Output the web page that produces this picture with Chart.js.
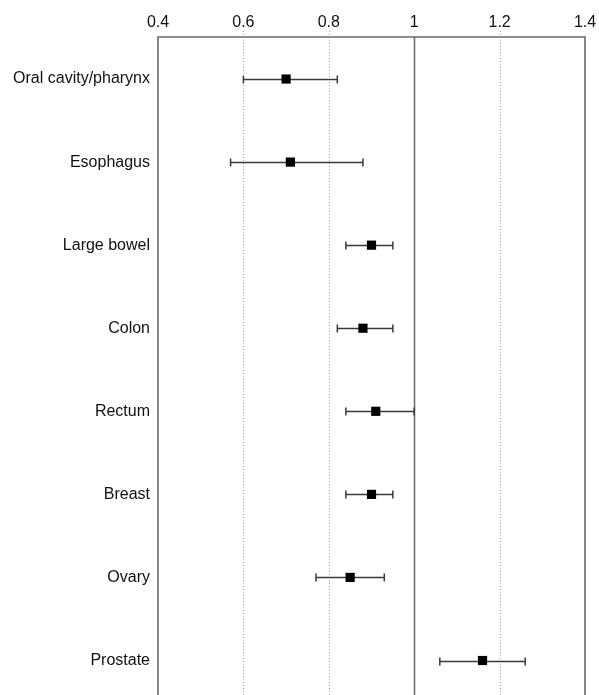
<!DOCTYPE html>
<html>
<head>
<meta charset="utf-8">
<script src="https://cdn.jsdelivr.net/npm/chart.js@4.4.1/dist/chart.umd.min.js"></script>
<style>
  html, body { margin: 0; padding: 0; background: #fff; overflow: hidden; }
  canvas { display: block; }
</style>
</head>
<body>
<canvas id="c" width="599" height="695" style="width:599px;height:695px"></canvas>
<script>
const categories = ["Oral cavity/pharynx", "Esophagus", "Large bowel", "Colon", "Rectum", "Breast", "Ovary", "Prostate"];
const estimate = [0.70, 0.71, 0.90, 0.88, 0.91, 0.90, 0.85, 1.16];
const lower    = [0.60, 0.57, 0.84, 0.82, 0.84, 0.84, 0.77, 1.06];
const upper    = [0.82, 0.88, 0.95, 0.95, 1.00, 0.95, 0.93, 1.26];
const xTicks   = [0.4, 0.6, 0.8, 1.0, 1.2, 1.4];

const points = categories.map((c, i) => ({ x: estimate[i], y: i + 1 }));
const FONT = "'Liberation Sans', Arial, sans-serif";

const framePlugin = {
  id: 'frame',
  beforeDatasetsDraw(chart) {
    const { ctx, chartArea: a, scales: { x, y } } = chart;
    const bottom = chart.height;
    ctx.save();
    xTicks.forEach(v => {
      if (v === 0.4 || v === 1.4) return;
      const px = Math.round(x.getPixelForValue(v)) + 0.5;
      ctx.beginPath();
      if (v === 1.0) {
        ctx.setLineDash([]);
        ctx.strokeStyle = '#6f6f6f';
        ctx.lineWidth = 1.6;
        ctx.moveTo(px, a.top);
      } else {
        ctx.setLineDash([1, 2]);
        ctx.strokeStyle = '#a8a8a8';
        ctx.lineWidth = 1;
        ctx.moveTo(px, a.top - 6);
      }
      ctx.lineTo(px, bottom);
      ctx.stroke();
    });
    ctx.setLineDash([]);
    ctx.strokeStyle = '#6a6a6a';
    ctx.lineWidth = 1.6;
    const l = x.getPixelForValue(0.4), r = x.getPixelForValue(1.4);
    ctx.beginPath();
    ctx.moveTo(l, bottom); ctx.lineTo(l, a.top); ctx.lineTo(r, a.top); ctx.lineTo(r, bottom);
    ctx.stroke();
    ctx.strokeStyle = '#3a3a3a';
    ctx.lineWidth = 1.5;
    categories.forEach((c, i) => {
      const py = Math.round(y.getPixelForValue(i + 1)) + 0.5;
      const x0 = x.getPixelForValue(lower[i]), x1 = x.getPixelForValue(upper[i]);
      ctx.beginPath();
      ctx.moveTo(x0, py); ctx.lineTo(x1, py);
      ctx.moveTo(x0, py - 4); ctx.lineTo(x0, py + 4);
      ctx.moveTo(x1, py - 4); ctx.lineTo(x1, py + 4);
      ctx.stroke();
    });
    ctx.restore();
  }
};

new Chart(document.getElementById('c'), {
  type: 'scatter',
  data: {
    datasets: [{
      data: points,
      pointStyle: 'rect',
      pointRadius: 6.5,
      pointHoverRadius: 6.5,
      backgroundColor: '#000',
      borderColor: '#000',
      borderWidth: 0,
      clip: false
    }]
  },
  plugins: [framePlugin],
  options: {
    responsive: false,
    animation: false,
    devicePixelRatio: 1,
    layout: { padding: { left: 0, right: 14, top: 0, bottom: 0 } },
    plugins: { legend: { display: false }, tooltip: { enabled: false } },
    scales: {
      x: {
        type: 'linear',
        position: 'top',
        min: 0.4,
        max: 1.4,
        afterBuildTicks(scale) { scale.ticks = xTicks.map(v => ({ value: v })); },
        afterFit(scale) { scale.height = 37; scale.paddingLeft = 0; scale.paddingRight = 0; scale.paddingTop = 0; scale.paddingBottom = 0; },
        grid: { display: false, drawTicks: false },
        border: { display: false },
        ticks: {
          padding: 5,
          color: '#111',
          font: { family: FONT, size: 16 },
          maxRotation: 0,
          callback: v => String(Math.round(v * 10) / 10)
        }
      },
      y: {
        type: 'linear',
        reverse: true,
        min: 0.494,
        max: 8.337,
        afterBuildTicks(scale) { scale.ticks = categories.map((c, i) => ({ value: i + 1 })); },
        afterFit(scale) { scale.width = 158; scale.paddingTop = 0; scale.paddingBottom = 0; scale.paddingLeft = 0; scale.paddingRight = 0; },
        grid: { display: false, drawTicks: false },
        border: { display: false },
        ticks: {
          padding: 8,
          color: '#111',
          font: { family: FONT, size: 16 },
          callback: v => categories[Math.round(v) - 1]
        }
      }
    }
  }
});
</script>
</body>
</html>
